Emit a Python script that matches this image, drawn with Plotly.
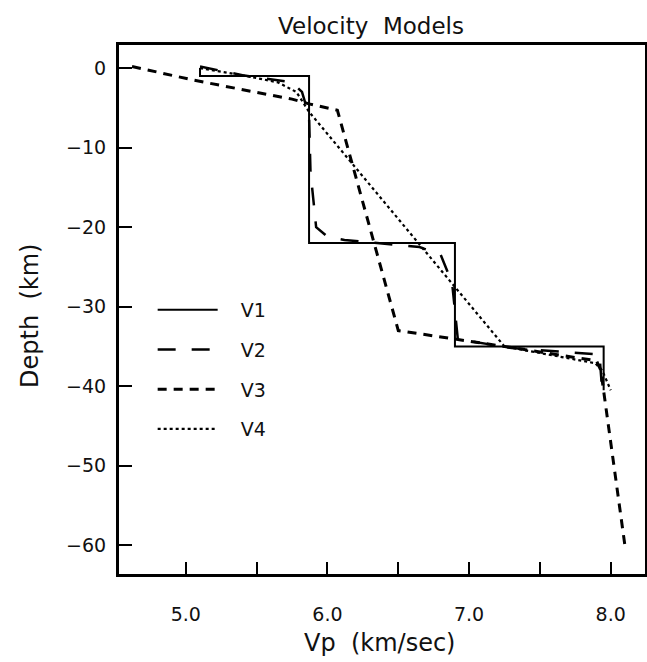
import plotly.graph_objects as go

# ---- data ----
V1_vp = [5.10, 5.10, 5.87, 5.87, 6.90, 6.90, 7.95, 7.95]
V1_z = [0.0, -1.0, -1.0, -22.0, -22.0, -35.0, -35.0, -40.5]

V2_vp = [5.10, 5.40, 5.75, 5.82, 5.87, 5.88, 5.92, 6.00, 6.12, 6.65, 6.80, 6.88, 6.92, 7.00, 7.30, 7.92, 7.94]
V2_z = [0.2, -0.9, -1.8, -3.0, -6.0, -13.0, -20.0, -21.2, -21.6, -22.5, -23.5, -27.0, -34.0, -34.3, -35.2, -36.0, -40.5]

V3_vp = [4.62, 5.05, 5.60, 5.75, 5.87, 6.07, 6.50, 6.85, 7.25, 7.90, 7.93, 8.10]
V3_z = [0.2, -1.5, -3.4, -3.9, -4.5, -5.3, -33.0, -33.9, -35.0, -36.8, -38.0, -60.0]

V4_vp = [5.10, 5.40, 5.65, 5.78, 5.87, 7.25, 7.89, 7.94, 8.00]
V4_z = [0.0, -0.9, -1.8, -3.0, -5.5, -35.0, -37.1, -38.0, -40.5]

x_tickvals = [5.0, 5.5, 6.0, 6.5, 7.0, 7.5, 8.0]
x_ticktext = ["5.0", "", "6.0", "", "7.0", "", "8.0"]
y_tickvals = [0, -10, -20, -30, -40, -50, -60]
y_ticktext = ["0", "\u221210", "\u221220", "\u221230", "\u221240", "\u221250", "\u221260"]

series_names = ["V1", "V2", "V3", "V4"]
series = [
    (series_names[0], V1_vp, V1_z, "solid", 2.0),
    (series_names[1], V2_vp, V2_z, "18px,16px", 2.5),
    (series_names[2], V3_vp, V3_z, "9px,7px", 3.0),
    (series_names[3], V4_vp, V4_z, "3px,3px", 2.2),
]

FONT = "DejaVu Sans"
PAD = "\u00a0\u00a0\u00a0"  # gap between legend line and label

fig = go.Figure()
for name, xs, ys, dash, w in series:
    fig.add_trace(go.Scatter(
        x=xs, y=ys, mode="lines", name=PAD + name, legendgroup=name,
        line=dict(color="black", width=w, dash=dash),
    ))

fig.update_layout(
    width=647, height=662,
    paper_bgcolor="white", plot_bgcolor="white",
    margin=dict(l=119, r=2, t=45, b=88, autoexpand=False),
    font=dict(family=FONT, color="#111111", size=19),
    title=dict(text="Velocity  Models", x=371/647, xref="container", xanchor="center",
               y=1 - 26/662, yref="container", yanchor="middle",
               font=dict(family=FONT, size=23, color="#111111")),
    showlegend=True,
    legend=dict(x=0.064, y=0.535, xanchor="left", yanchor="top",
                bgcolor="rgba(0,0,0,0)", traceorder="grouped", tracegroupgap=12,
                itemwidth=60, font=dict(family=FONT, size=19)),
    xaxis=dict(range=[4.528, 8.242], tickvals=x_tickvals, ticktext=x_ticktext,
               ticks="inside", ticklen=12, tickwidth=2, tickcolor="black",
               showline=True, linewidth=3, linecolor="black", mirror=True,
               showgrid=False, zeroline=False, ticklabelstandoff=21, automargin=False,
               tickfont=dict(family=FONT, size=19)),
    yaxis=dict(range=[-63.6, 2.9], tickvals=y_tickvals, ticktext=y_ticktext,
               ticks="inside", ticklen=13, tickwidth=2, tickcolor="black",
               showline=True, linewidth=3, linecolor="black", mirror=True,
               showgrid=False, zeroline=False, ticklabelstandoff=6, automargin=False,
               tickfont=dict(family=FONT, size=19)),
    annotations=[
        dict(text="Vp  (km/sec)", xref="paper", yref="paper", x=0.496, y=-0.130,
             xanchor="center", yanchor="middle", showarrow=False,
             font=dict(family=FONT, size=24)),
        dict(text="Depth  (km)", xref="paper", yref="paper", x=-0.169, y=0.488,
             xanchor="center", yanchor="middle", showarrow=False, textangle=-90,
             font=dict(family=FONT, size=24)),
    ],
)

fig.write_html("out.html", config={"displayModeBar": False},
               post_script="document.body.style.margin='0px';")
